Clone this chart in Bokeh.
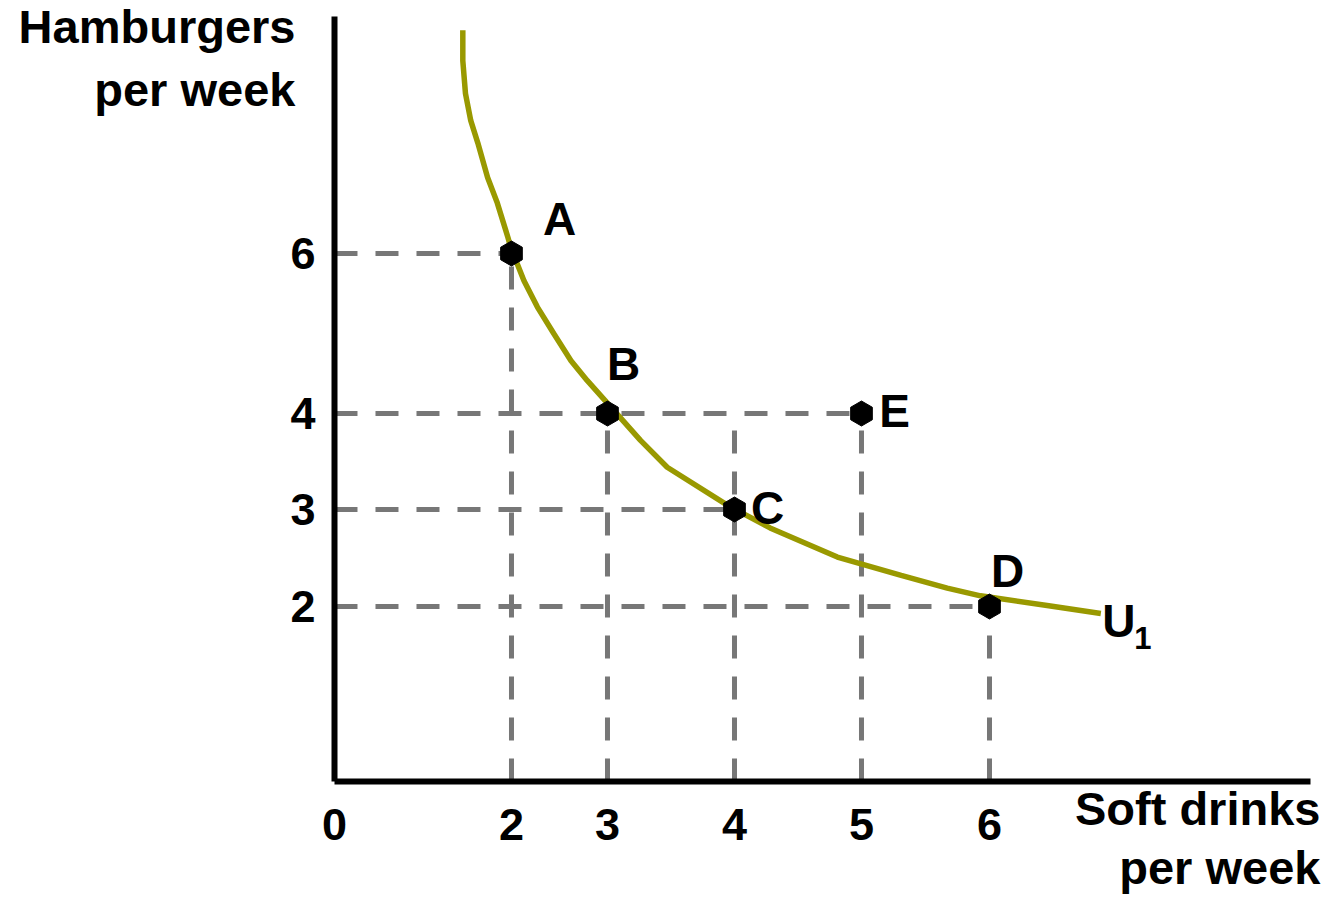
import numpy as np
from bokeh.plotting import figure
from bokeh.models import ColumnDataSource, Range1d, FixedTicker
from bokeh.core.properties import value
from bokeh.embed import file_html
from bokeh.resources import INLINE

# Indifference curve U1: soft drinks and hamburgers per week
curve_drinks = [1.45, 1.45, 1.48, 1.54, 1.62, 1.73, 1.84, 1.96, 1.99, 2.13, 2.27, 2.44, 2.62,
                2.79, 3.05, 3.26, 3.47, 3.95, 4.28, 4.81, 5.31, 5.67, 5.93, 6.45, 6.87]
curve_burgers = [8.79, 8.41, 8.00, 7.66, 7.38, 6.95, 6.63, 6.20, 6.08, 5.66, 5.33, 5.00, 4.66,
                 4.41, 4.04, 3.72, 3.44, 3.04, 2.81, 2.51, 2.32, 2.19, 2.11, 2.01, 1.92]
curve_name = "U"
curve_subscript = "1"

# Consumption bundles
bundle_names = ["A", "B", "C", "D", "E"]
bundle_drinks = [2, 3, 4, 6, 5]
bundle_burgers = [6, 4, 3, 2, 4]

# Axis tick values and titles
x_tick_values = [0, 2, 3, 4, 5, 6]
y_tick_values = [2, 3, 4, 6]
y_title = ["Hamburgers", "per week"]
x_title = ["Soft drinks", "per week"]

# Dashed guides: horizontal ones run from the vertical axis out to the given drinks,
# vertical ones run from the horizontal axis up to the given hamburgers
h_guide_burgers = [6, 4, 3, 2]
h_guide_drinks_end = [2, 5, 4, 6]
v_guide_drinks = [2, 3, 4, 5, 6]
v_guide_burgers_end = [6, 4, 4, 4, 2]

# The axes are laid out with uneven spacing between the labelled quantities;
# each quantity sits at a share of the axis length.
X_KNOTS = [0, 2, 3, 4, 5, 6, 8]
X_SHARE = [0.0, 0.18135, 0.27971, 0.40984, 0.53996, 0.67111, 0.93340]
Y_KNOTS = [0, 2, 3, 4, 6, 10]
Y_SHARE = [0.0, 0.22876, 0.35556, 0.48105, 0.69020, 1.10850]


def ax(v):
    return np.interp(v, X_KNOTS, X_SHARE)


def ay(v):
    return np.interp(v, Y_KNOTS, Y_SHARE)


FONT = "Liberation Sans"
INK = "black"
GUIDE = "#777777"
CURVE = "#999900"

# the drawing area spans the whole page; the axes sit inside it at share 0
p = figure(width=1330, height=897, output_backend="svg", toolbar_location=None,
           x_range=Range1d(-0.3422, 1.0205), y_range=Range1d(-0.1516, 1.0209),
           min_border=0)
p.outline_line_color = None
p.xgrid.visible = False
p.ygrid.visible = False
p.background_fill_color = "white"
p.border_fill_color = "white"

for axis, ticks, conv in ((p.xaxis[0], x_tick_values, ax), (p.yaxis[0], y_tick_values, ay)):
    locs = [float(conv(t)) for t in ticks]
    axis.fixed_location = 0
    axis.bounds = (0, 1)
    axis.ticker = FixedTicker(ticks=locs)
    axis.major_label_overrides = {loc: str(t) for loc, t in zip(locs, ticks)}
    axis.axis_line_color = INK
    axis.axis_line_width = 6
    axis.major_tick_line_color = None
    axis.minor_tick_line_color = None
    axis.major_tick_out = 0
    axis.major_tick_in = 0
    axis.major_label_text_font = FONT
    axis.major_label_text_font_style = "bold"
    axis.major_label_text_font_size = "45px"
    axis.major_label_text_color = INK
p.xaxis.major_label_standoff = 27
p.yaxis.major_label_standoff = 19

# dashed guide lines
p.segment(x0=ax([0] * len(h_guide_burgers)), y0=ay(h_guide_burgers),
          x1=ax(h_guide_drinks_end), y1=ay(h_guide_burgers),
          line_color=GUIDE, line_width=5, line_dash="23 18")
p.segment(x0=ax(v_guide_drinks), y0=ay([0] * len(v_guide_drinks)),
          x1=ax(v_guide_drinks), y1=ay(v_guide_burgers_end),
          line_color=GUIDE, line_width=5, line_dash="23 18")

# indifference curve
p.line(ax(curve_drinks), ay(curve_burgers), line_color=CURVE, line_width=5.5)

# bundles
src = ColumnDataSource(dict(x=ax(bundle_drinks), y=ay(bundle_burgers), name=bundle_names,
                            dx=[48, 16, 33, 18, 33], dy=[-34, -50, -2, -36, -3]))
p.scatter("x", "y", source=src, marker="hex", size=25, angle=np.pi / 2,
          fill_color=INK, line_color=INK)
p.text("x", "y", text="name", source=src, x_offset="dx", y_offset="dy",
       text_align="center", text_baseline="middle",
       text_font=value(FONT), text_font_style="bold", text_font_size="46px", text_color=INK)

# curve label with subscript, next to the curve's end
end_x = float(ax(curve_drinks[-1]))
end_y = float(ay(curve_burgers[-1]))
p.text([end_x], [end_y], text=[curve_name], x_offset=18, y_offset=7,
       text_align="center", text_baseline="middle", text_font=value(FONT),
       text_font_style="bold", text_font_size="46px", text_color=INK)
p.text([end_x], [end_y], text=[curve_subscript], x_offset=42, y_offset=24,
       text_align="center", text_baseline="middle", text_font=value(FONT),
       text_font_style="bold", text_font_size="31px", text_color=INK)

# axis titles, right-aligned beside the axis ends
p.text([-0.040, -0.040], [0.9869, 0.9046], text=y_title,
       text_align="right", text_baseline="middle", text_font=value(FONT),
       text_font_style="bold", text_font_size="47px", text_color=INK)
p.text([1.0102, 1.0102], [-0.0353, -0.1124], text=x_title,
       text_align="right", text_baseline="middle", text_font=value(FONT),
       text_font_style="bold", text_font_size="47px", text_color=INK)

open("out.html", "w").write(file_html(p, INLINE))
